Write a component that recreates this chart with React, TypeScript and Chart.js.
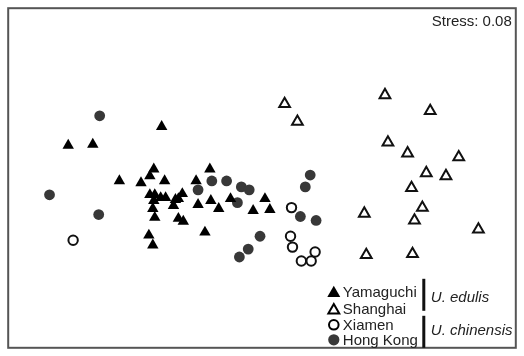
import React, { useEffect, useRef } from "react";
import { Chart, registerables } from "chart.js";

Chart.register(...registerables);

// NMDS ordination coordinates (plot units)
const yamaguchiX = [66, 91, 161, 153, 210, 118, 140, 149, 164, 196, 149, 154, 153, 160, 165, 173, 175, 178, 182, 152, 154, 178, 183, 148, 152, 198, 211, 219, 231, 266, 254, 271, 205];
const yamaguchiY = [147, 146, 128, 171, 171, 183, 185, 178, 183, 183, 197, 197, 203, 200, 200, 208, 202, 201, 196, 211, 220, 221, 224, 238, 248, 207, 203, 211, 201, 201, 213, 212, 235];

const shanghaiX = [286, 299, 388, 434, 391, 411, 463, 430, 450, 415, 426, 418, 367, 483, 369, 416];
const shanghaiY = [105, 123, 96, 112, 144, 155, 159, 175, 178, 190, 210, 223, 216, 232, 258, 257];

const xiamenX = [71, 293, 292, 294, 303, 313, 317];
const xiamenY = [243, 210, 239, 250, 264, 264, 255];

const hongKongX = [98, 47, 97, 212, 227, 198, 242, 250, 238, 261, 249, 240, 312, 307, 302, 318];
const hongKongY = [117, 197, 217, 183, 183, 192, 189, 192, 205, 239, 252, 260, 177, 189, 219, 223];

const stressLabel = "Stress: 0.08";
const siteNames = ["Yamaguchi", "Shanghai", "Xiamen", "Hong Kong"];
const speciesNames = ["U. edulis", "U. chinensis"];

const toPoints = (xs: number[], ys: number[]) => xs.map((x, i) => ({ x, y: ys[i] }));

const FONT = '"Liberation Sans", Arial, Helvetica, sans-serif';

const framePlugin = {
  id: "frameAndLegend",
  afterDraw(chart: any) {
    const { ctx, chartArea } = chart;
    const { left, top, right, bottom } = chartArea;
    ctx.save();
    // frame
    ctx.strokeStyle = "#555";
    ctx.lineWidth = 2;
    ctx.strokeRect(left, top, right - left, bottom - top);

    // stress text
    ctx.fillStyle = "#222";
    ctx.font = `15px ${FONT}`;
    ctx.textAlign = "right";
    ctx.textBaseline = "alphabetic";
    ctx.fillText(stressLabel, right - 4, top + 18);

    // legend
    const mx = right - 182;
    const rows = [bottom - 56, bottom - 39, bottom - 23, bottom - 8];
    const drawTri = (x: number, y: number, r: number, fill: boolean) => {
      ctx.beginPath();
      ctx.moveTo(x, y - r);
      ctx.lineTo(x + r * 0.866, y + r * 0.5);
      ctx.lineTo(x - r * 0.866, y + r * 0.5);
      ctx.closePath();
      if (fill) {
        ctx.fillStyle = "#000";
        ctx.fill();
      } else {
        ctx.strokeStyle = "#000";
        ctx.lineWidth = 2;
        ctx.stroke();
      }
    };
    drawTri(mx, rows[0] + 1.5, 7.5, true);
    drawTri(mx, rows[1] + 1.5, 6.3, false);
    ctx.beginPath();
    ctx.arc(mx, rows[2], 4.8, 0, Math.PI * 2);
    ctx.strokeStyle = "#000";
    ctx.lineWidth = 2;
    ctx.stroke();
    ctx.beginPath();
    ctx.arc(mx, rows[3], 5.6, 0, Math.PI * 2);
    ctx.fillStyle = "#383838";
    ctx.fill();

    ctx.fillStyle = "#222";
    ctx.font = `15px ${FONT}`;
    ctx.textAlign = "left";
    ctx.textBaseline = "middle";
    siteNames.forEach((n, i) => ctx.fillText(n, mx + 9, rows[i] + 1));

    // brackets
    const bx = right - 92;
    ctx.fillStyle = "#111";
    ctx.fillRect(bx - 1.5, bottom - 69, 3, 32);
    ctx.fillRect(bx - 1.5, bottom - 32, 3, 32);
    ctx.font = `italic 15px ${FONT}`;
    ctx.fillStyle = "#222";
    ctx.fillText(speciesNames[0], bx + 7, bottom - 50);
    ctx.fillText(speciesNames[1], bx + 7, bottom - 17);
    ctx.restore();
  },
};

export default function App() {
  const ref = useRef<HTMLCanvasElement | null>(null);
  useEffect(() => {
    if (!ref.current) return;
    const chart = new Chart(ref.current, {
      type: "scatter",
      data: {
        datasets: [
          {
            label: siteNames[0],
            data: toPoints(yamaguchiX, yamaguchiY),
            pointStyle: "triangle",
            pointRadius: 6.6,
            backgroundColor: "#000",
            borderColor: "#000",
            borderWidth: 0,
          },
          {
            label: siteNames[1],
            data: toPoints(shanghaiX, shanghaiY),
            pointStyle: "triangle",
            pointRadius: 6.2,
            backgroundColor: "#fff",
            borderColor: "#111",
            borderWidth: 2,
          },
          {
            label: siteNames[2],
            data: toPoints(xiamenX, xiamenY),
            pointStyle: "circle",
            pointRadius: 4.7,
            backgroundColor: "#fff",
            borderColor: "#111",
            borderWidth: 2,
          },
          {
            label: siteNames[3],
            data: toPoints(hongKongX, hongKongY),
            pointStyle: "circle",
            pointRadius: 5.4,
            backgroundColor: "#383838",
            borderColor: "#383838",
            borderWidth: 0,
          },
        ],
      },
      options: {
        animation: false,
        responsive: false,
        maintainAspectRatio: false,
        layout: { padding: { left: 5, top: 8, right: 3, bottom: 4 } },
        scales: {
          x: { type: "linear", min: 5, max: 521, display: false },
          y: { type: "linear", min: 8, max: 352, reverse: true, display: false },
        },
        plugins: {
          legend: { display: false },
          tooltip: { enabled: false },
        },
        elements: { point: { hoverRadius: 5 } },
      },
      plugins: [framePlugin],
    });
    return () => chart.destroy();
  }, []);
  return (
    <div style={{ position: "fixed", left: 0, top: 0, width: 524, height: 356, background: "#fff" }}>
      <canvas ref={ref} width={524} height={356} />
    </div>
  );
}
